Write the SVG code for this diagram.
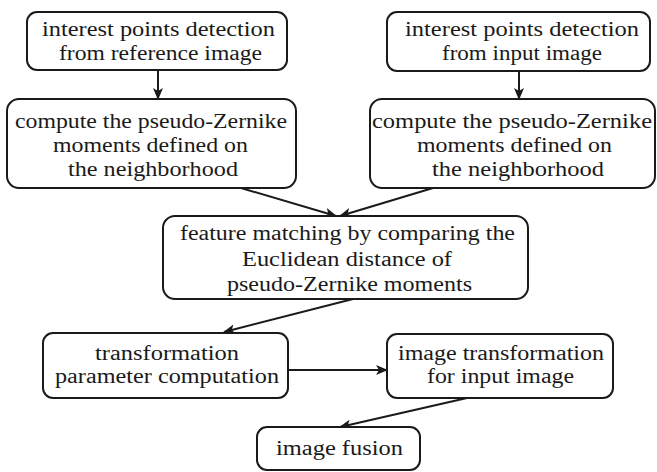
<svg xmlns="http://www.w3.org/2000/svg" width="657" height="472" viewBox="0 0 657 472">
  <style>
    .box { fill: #ffffff; stroke: #1a1a1a; stroke-width: 2; }
    .lbl { font-family: "Liberation Serif", "Times New Roman", serif; font-size: 20px; fill: #1a1a1a; text-anchor: middle; }
    .edge { fill: none; stroke: #1a1a1a; stroke-width: 2; marker-end: url(#arrow); }
  </style>
  <defs>
    <marker id="arrow" viewBox="0 0 12 10" refX="11" refY="5" markerWidth="12" markerHeight="10" markerUnits="userSpaceOnUse" orient="auto">
      <path d="M0,0 L12,5 L0,10 L3,5 Z" fill="#1a1a1a"/>
    </marker>
  </defs>
  <rect width="657" height="472" fill="#ffffff"/>

  <g id="connectors">
    <line class="edge" x1="158" y1="70" x2="158" y2="99"/>
    <line class="edge" x1="519" y1="71" x2="519" y2="99"/>
    <line class="edge" x1="241" y1="188" x2="336" y2="216"/>
    <line class="edge" x1="433" y1="188" x2="340" y2="216"/>
    <line class="edge" x1="353" y1="299" x2="224" y2="332"/>
    <line class="edge" x1="288" y1="370" x2="387" y2="370"/>
    <line class="edge" x1="467" y1="398" x2="340" y2="427"/>
  </g>

  <g id="detect-reference">
    <rect class="box" x="27" y="12" width="260" height="58" rx="10"/>
    <text class="lbl" x="158.5" y="36" textLength="233" lengthAdjust="spacingAndGlyphs">interest points detection</text>
    <text class="lbl" x="160.5" y="60" textLength="203" lengthAdjust="spacingAndGlyphs">from reference image</text>
  </g>

  <g id="detect-input">
    <rect class="box" x="387" y="12" width="263" height="59" rx="10"/>
    <text class="lbl" x="522" y="36" textLength="234" lengthAdjust="spacingAndGlyphs">interest points detection</text>
    <text class="lbl" x="522" y="60" textLength="160" lengthAdjust="spacingAndGlyphs">from input image</text>
  </g>

  <g id="pzm-reference">
    <rect class="box" x="7" y="99" width="289" height="89" rx="12"/>
    <text class="lbl" x="151" y="128" textLength="272" lengthAdjust="spacingAndGlyphs">compute the pseudo-Zernike</text>
    <text class="lbl" x="150.5" y="152" textLength="195" lengthAdjust="spacingAndGlyphs">moments defined on</text>
    <text class="lbl" x="153" y="176" textLength="170" lengthAdjust="spacingAndGlyphs">the neighborhood</text>
  </g>

  <g id="pzm-input">
    <rect class="box" x="370" y="99" width="285" height="89" rx="12"/>
    <text class="lbl" x="512" y="128" textLength="280" lengthAdjust="spacingAndGlyphs">compute the pseudo-Zernike</text>
    <text class="lbl" x="514.5" y="152" textLength="195" lengthAdjust="spacingAndGlyphs">moments defined on</text>
    <text class="lbl" x="518" y="176" textLength="172" lengthAdjust="spacingAndGlyphs">the neighborhood</text>
  </g>

  <g id="feature-matching">
    <rect class="box" x="163" y="216" width="365" height="83" rx="12"/>
    <text class="lbl" x="347.5" y="240" textLength="335" lengthAdjust="spacingAndGlyphs">feature matching by comparing the</text>
    <text class="lbl" x="347" y="266" textLength="210" lengthAdjust="spacingAndGlyphs">Euclidean distance of</text>
    <text class="lbl" x="349.5" y="291" textLength="245" lengthAdjust="spacingAndGlyphs">pseudo-Zernike moments</text>
  </g>

  <g id="parameter-computation">
    <rect class="box" x="43" y="333" width="245" height="65" rx="10"/>
    <text class="lbl" x="167" y="360" textLength="144" lengthAdjust="spacingAndGlyphs">transformation</text>
    <text class="lbl" x="167" y="383" textLength="224" lengthAdjust="spacingAndGlyphs">parameter computation</text>
  </g>

  <g id="image-transformation">
    <rect class="box" x="387" y="334" width="226" height="64" rx="10"/>
    <text class="lbl" x="501" y="360" textLength="206" lengthAdjust="spacingAndGlyphs">image transformation</text>
    <text class="lbl" x="500.5" y="383" textLength="147" lengthAdjust="spacingAndGlyphs">for input image</text>
  </g>

  <g id="image-fusion">
    <rect class="box" x="257" y="427" width="163" height="43" rx="10"/>
    <text class="lbl" x="339.5" y="455" textLength="127" lengthAdjust="spacingAndGlyphs">image fusion</text>
  </g>
</svg>
